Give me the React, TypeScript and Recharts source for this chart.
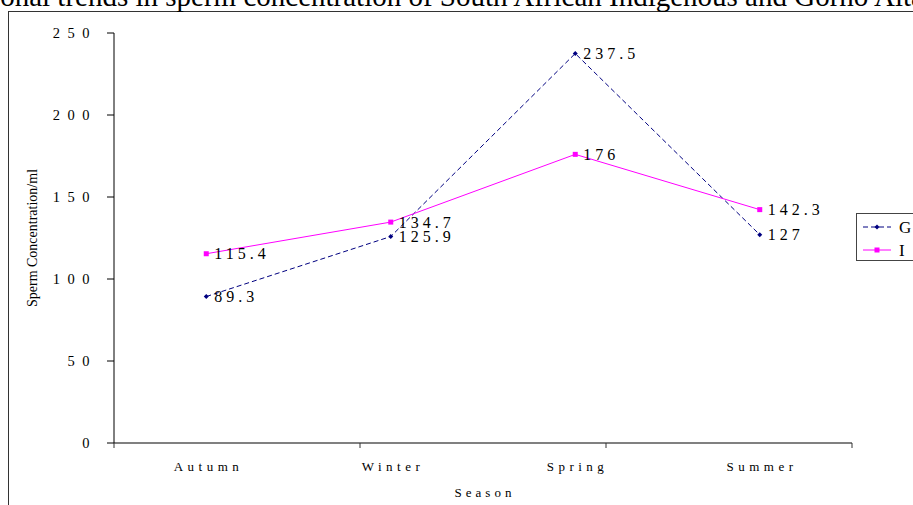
import React from 'react';
import { LineChart, Line, XAxis, YAxis, LabelList, Legend } from 'recharts';

const seasons = ['Autumn', 'Winter', 'Spring', 'Summer'];
const seriesG = [89.3, 125.9, 237.5, 127];
const seriesI = [115.4, 134.7, 176, 142.3];
const yTicks = [0, 50, 100, 150, 200, 250];
const boundaryTicks = [0, 1, 2, 3, 4];

const data = seasons.map((s, i) => ({ season: s, G: seriesG[i], I: seriesI[i] }));

const SERIF = '"Liberation Serif", "Times New Roman", serif';
const NAVY = '#000080';
const MAGENTA = '#FF00FF';

const Diamond = (props: any) => {
  const { cx, cy } = props;
  if (cx == null || cy == null) return null;
  const r = 2.5;
  return <polygon points={`${cx},${cy - r} ${cx + r},${cy} ${cx},${cy + r} ${cx - r},${cy}`} fill={NAVY} />;
};
const Square = (props: any) => {
  const { cx, cy } = props;
  if (cx == null || cy == null) return null;
  return <rect x={cx - 2.5} y={cy - 2.5} width={5} height={5} fill={MAGENTA} />;
};

const EmptyTick = () => <g />;

const YTick = (props: any) => {
  const { x, y, payload } = props;
  const ls = 7.5;
  return (
    <text x={x} y={y + 5} textAnchor="end" fontFamily={SERIF} fontSize={14.5} letterSpacing={ls} fill="#000">
      {payload.value}
    </text>
  );
};
const XTick = (props: any) => {
  const { x, y, payload } = props;
  const ls = 4.5;
  return (
    <text x={x + ls / 2} y={y + 27} textAnchor="middle" fontFamily={SERIF} fontSize={13} letterSpacing={ls} fill="#000">
      {payload.value}
    </text>
  );
};

const YLabel = (props: any) => {
  const vb = props.viewBox || {};
  const cy = vb.y + vb.height / 2;
  const cx = 32;
  return (
    <text x={cx} y={cy} transform={`rotate(-90 ${cx} ${cy})`} textAnchor="middle" dominantBaseline="central" fontFamily={SERIF} fontSize={14} fill="#000">
      Sperm Concentration/ml
    </text>
  );
};

const XLabel = (props: any) => {
  const vb = props.viewBox || {};
  const cx = vb.x + vb.width / 2;
  return (
    <text x={cx + 2} y={497} textAnchor="middle" fontFamily={SERIF} fontSize={13} letterSpacing={4} fill="#000">
      Season
    </text>
  );
};

const LegendBox = () => (
  <div style={{ border: '1px solid #444', width: 80, height: 48, background: '#fff', boxSizing: 'border-box', position: 'relative' }}>
    <svg width={80} height={48} style={{ position: 'absolute', left: 0, top: 0 }}>
      <line x1={6} y1={13} x2={34} y2={13} stroke={NAVY} strokeDasharray="5 3" />
      <polygon points="20,10.5 22.5,13 20,15.5 17.5,13" fill={NAVY} />
      <text x={42} y={19} fontFamily={SERIF} fontSize={17} fill="#000">G</text>
      <line x1={6} y1={36} x2={34} y2={36} stroke={MAGENTA} />
      <rect x={17.5} y={33.5} width={5} height={5} fill={MAGENTA} />
      <text x={42} y={42} fontFamily={SERIF} fontSize={17} fill="#000">I</text>
    </svg>
  </div>
);

export default function App() {
  return (
    <div style={{ position: 'absolute', left: 0, top: 0, width: 913, height: 505, overflow: 'hidden', background: '#fff' }}>
      <div style={{ position: 'absolute', left: 8, top: 11, width: 1000, height: 600, border: '1.5px solid #333' }} />
      <svg width={913} height={20} style={{ position: 'absolute', left: 0, top: 0 }}>
        <text x={-53} y={6} fontFamily={SERIF} fontSize={29} fill="#000">
          Seasonal trends in sperm concentration of South African Indigenous and Gorno Altai rams
        </text>
      </svg>
      <div style={{ position: 'absolute', left: 0, top: 0 }}>
        <LineChart width={913} height={505} data={data} margin={{ top: 33, right: 61, bottom: 0, left: 0 }}>
          <XAxis
            xAxisId="b"
            type="number"
            domain={[0, 4]}
            ticks={boundaryTicks}
            tick={<EmptyTick />}
            height={1}
            tickSize={5}
            axisLine={{ stroke: '#808080', strokeWidth: 2 }}
            tickLine={{ stroke: '#333' }}
            allowDataOverflow
          />
          <XAxis
            xAxisId="cat"
            dataKey="season"
            type="category"
            scale="band"
            height={61}
            tickSize={0}
            tickMargin={0}
            axisLine={false}
            tickLine={false}
            tick={<XTick />}
            label={<XLabel />}
          />
          <YAxis
            domain={[0, 250]}
            ticks={yTicks}
            width={114}
            tickSize={7}
            tickMargin={10}
            axisLine={{ stroke: '#000' }}
            tickLine={{ stroke: '#000' }}
            tick={<YTick />}
            label={<YLabel />}
          />
          <Legend
            layout="horizontal"
            verticalAlign="middle"
            align="center"
            content={<LegendBox />}
            wrapperStyle={{ left: 856, top: 213, width: 80, height: 48 }}
          />
          <Line
            xAxisId="cat"
            dataKey="G"
            stroke={NAVY}
            strokeWidth={1}
            strokeDasharray="5 3"
            dot={<Diamond />}
            activeDot={false}
            isAnimationActive={false}
          >
            <LabelList dataKey="G" position="right" offset={8} fill="#000" fontFamily={SERIF} fontSize={16} letterSpacing={4} />
          </Line>
          <Line
            xAxisId="cat"
            dataKey="I"
            stroke={MAGENTA}
            strokeWidth={1}
            dot={<Square />}
            activeDot={false}
            isAnimationActive={false}
          >
            <LabelList dataKey="I" position="right" offset={8} fill="#000" fontFamily={SERIF} fontSize={16} letterSpacing={4} />
          </Line>
        </LineChart>
      </div>
    </div>
  );
}
